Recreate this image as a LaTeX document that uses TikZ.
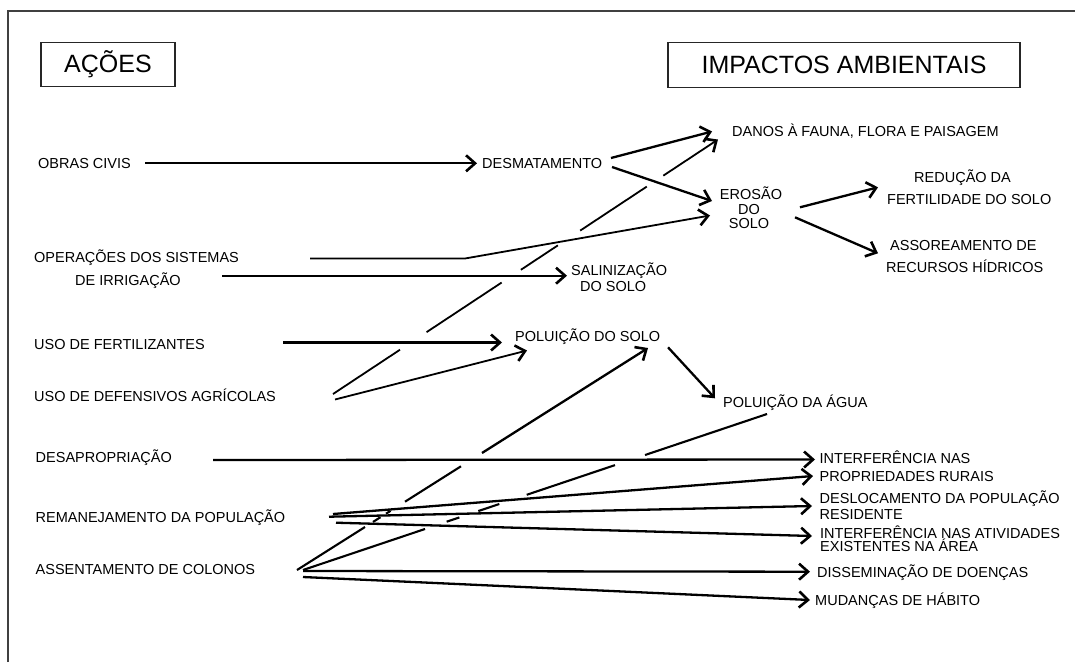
\documentclass[tikz,border=0pt]{standalone}
\usepackage{fontspec}
\setmainfont{Liberation Sans}
\usetikzlibrary{arrows.meta,calc}
\begin{document}
\begin{tikzpicture}[x=1pt,y=-1pt,
  lbl/.style={anchor=base west, inner sep=0pt, font=\fontsize{14.5}{14.5}\selectfont},
  lblc/.style={lbl, anchor=base},
  head/.style={draw=black!85, line width=1.2pt, inner sep=0pt, font=\fontsize{25}{25}\selectfont},
  conn/.style={line width=2.3pt, -{Straight Barb[length=9pt,width=16pt,line width=2.6pt]}},
  thinconn/.style={conn, line width=1.8pt},
  seg/.style={line width=2.1pt},
  thinseg/.style={line width=1.8pt},
]
\useasboundingbox (0,0) rectangle (1075,662);

% page frame (top and left rules)
\draw[line width=1.2pt, black!75] (8,662) -- (8,11) -- (1075,11);

% column headers
\node[head, minimum width=134pt, minimum height=44pt] (acoes) at (108,64.5) {AÇÕES};
\node[head, minimum width=352pt, minimum height=45pt] (impactos) at (844,65) {IMPACTOS AMBIENTAIS};

% actions
\node[lbl] (obras)  at (38,168.5)  {OBRAS CIVIS};
\node[lbl] (oper1)  at (34,262)    {OPERAÇÕES DOS SISTEMAS};
\node[lbl] (oper2)  at (75,285)    {DE IRRIGAÇÃO};
\node[lbl] (fert)   at (34,349)    {USO DE FERTILIZANTES};
\node[lbl] (defens) at (34,401)    {USO DE DEFENSIVOS AGRÍCOLAS};
\node[lbl] (desap)  at (35.5,462)  {DESAPROPRIAÇÃO};
\node[lbl] (reman)  at (35.5,522)  {REMANEJAMENTO DA POPULAÇÃO};
\node[lbl] (assent) at (35.5,574)  {ASSENTAMENTO DE COLONOS};

% intermediate and final impacts
\node[lbl] (desmat)  at (482,168.5) {DESMATAMENTO};
\node[lbl] (danos)   at (732,136.5) {DANOS À FAUNA, FLORA E PAISAGEM};
\node[lblc] (eros1)  at (751,199.5) {EROSÃO};
\node[lblc] (eros2)  at (749,214)   {DO};
\node[lblc] (eros3)  at (749,228.5) {SOLO};
\node[lbl] (redu1)   at (914,182.5) {REDUÇÃO DA};
\node[lbl] (redu2)   at (887,204.3) {FERTILIDADE DO SOLO};
\node[lbl] (assor1)  at (890,250.3) {ASSOREAMENTO DE};
\node[lbl] (assor2)  at (886,272)   {RECURSOS HÍDRICOS};
\node[lbl] (salin1)  at (571,275)   {SALINIZAÇÃO};
\node[lbl] (salin2)  at (580,291)   {DO SOLO};
\node[lbl] (polsolo) at (515,341)   {POLUIÇÃO DO SOLO};
\node[lbl] (polagua) at (723,407)   {POLUIÇÃO DA ÁGUA};
\node[lbl] (interf1) at (819.5,463.5) {INTERFERÊNCIA NAS};
\node[lbl] (interf2) at (819.5,481.3) {PROPRIEDADES RURAIS};
\node[lbl] (desloc1) at (819.5,503.5) {DESLOCAMENTO DA POPULAÇÃO};
\node[lbl] (desloc2) at (819.5,519.3) {RESIDENTE};
\node[lbl] (ativ1)   at (820,538.5) {INTERFERÊNCIA NAS ATIVIDADES};
\node[lbl] (ativ2)   at (820,551.3) {EXISTENTES NA ÁREA};
\node[lbl] (dissem)  at (817,577)   {DISSEMINAÇÃO DE DOENÇAS};
\node[lbl] (mudanc)  at (815,605.3) {MUDANÇAS DE HÁBITO};

% connector end points
\coordinate (obras-o)   at (145,163.3);
\coordinate (desmat-i)  at (477,163.3);
\coordinate (desmat-o1) at (611,158);
\coordinate (desmat-o2) at (612,167);
\coordinate (danos-i1)  at (712,131.5);
\coordinate (danos-i2)  at (718,139.5);
\coordinate (eros-i1)   at (712,201);
\coordinate (eros-i2)   at (710,215.5);
\coordinate (eros-o1)   at (800,207.3);
\coordinate (eros-o2)   at (795,217.3);
\coordinate (redu-i)    at (878,187.3);
\coordinate (assor-i)   at (878,253.3);
\coordinate (oper-o)    at (310,258.5);
\coordinate (oper-k)    at (465,258.5);
\coordinate (irrig-o)   at (222,275.7);
\coordinate (salin-i)   at (567,275.7);
\coordinate (fert-o)    at (283,342.5);
\coordinate (polsolo-i1) at (502,342.5);
\coordinate (polsolo-i2) at (527,350.5);
\coordinate (polsolo-i3) at (648,348);
\coordinate (polsolo-o) at (668,347.3);
\coordinate (polagua-i) at (715,398.3);
\coordinate (polagua-e) at (767,414);
\coordinate (defens-o1) at (333,394);
\coordinate (defens-o2) at (335,399.5);
\coordinate (desap-o)   at (213,460);
\coordinate (interf-i1) at (815,459.5);
\coordinate (interf-i2) at (813,476);
\coordinate (reman-o1)  at (333,514);
\coordinate (reman-o2)  at (329,516.7);
\coordinate (reman-o3)  at (336,522.7);
\coordinate (desloc-i)  at (812,506);
\coordinate (ativ-i)    at (812,536);
\coordinate (assent-o1) at (297,570);
\coordinate (assent-o2) at (303,570);
\coordinate (assent-o3) at (303,571);
\coordinate (assent-o4) at (303,577);
\coordinate (dissem-i)  at (810,571.7);
\coordinate (mudanc-i)  at (810,600);

% solid connectors
\draw[conn] (obras-o) -- (desmat-i);
\draw[conn] (desmat-o1) -- (danos-i1);
\draw[conn] (desmat-o2) -- (eros-i1);
\draw[conn] (eros-o1) -- (redu-i);
\draw[conn] (eros-o2) -- (assor-i);
\draw[thinconn] (oper-o) -- (oper-k) -- (eros-i2);
\draw[conn] (irrig-o) -- (salin-i);
\draw[conn] (fert-o) -- (polsolo-i1);
\draw[thinconn] (defens-o2) -- (polsolo-i2);
\draw[conn] (polsolo-o) -- (polagua-i);
\draw[conn] (desap-o) -- (interf-i1);
\draw[conn] (reman-o1) -- (interf-i2);
\draw[conn] (reman-o2) -- (desloc-i);
\draw[conn] (reman-o3) -- (ativ-i);
\draw[conn] (assent-o3) -- (dissem-i);
\draw[conn] (assent-o4) -- (mudanc-i);

% connectors broken where they pass under other lines
\draw[thinseg] (defens-o1) -- ($(defens-o1)!0.174!(danos-i2)$)
  ($(defens-o1)!0.243!(danos-i2)$) -- ($(defens-o1)!0.438!(danos-i2)$)
  ($(defens-o1)!0.488!(danos-i2)$) -- ($(defens-o1)!0.584!(danos-i2)$)
  ($(defens-o1)!0.642!(danos-i2)$) -- ($(defens-o1)!0.815!(danos-i2)$);
\draw[thinconn] ($(defens-o1)!0.858!(danos-i2)$) -- (danos-i2);

\draw[seg] (assent-o1) -- ($(assent-o1)!0.1937!(polsolo-i3)$)
  ($(assent-o1)!0.2165!(polsolo-i3)$) -- ($(assent-o1)!0.2379!(polsolo-i3)$)
  ($(assent-o1)!0.2536!(polsolo-i3)$) -- ($(assent-o1)!0.2664!(polsolo-i3)$)
  ($(assent-o1)!0.3077!(polsolo-i3)$) -- ($(assent-o1)!0.4672!(polsolo-i3)$);
\draw[conn] ($(assent-o1)!0.5271!(polsolo-i3)$) -- (polsolo-i3);

\draw[seg] (assent-o2) -- ($(assent-o2)!0.263!(polagua-e)$)
  ($(assent-o2)!0.3097!(polagua-e)$) -- ($(assent-o2)!0.3369!(polagua-e)$)
  ($(assent-o2)!0.3778!(polagua-e)$) -- ($(assent-o2)!0.4231!(polagua-e)$)
  ($(assent-o2)!0.4821!(polagua-e)$) -- ($(assent-o2)!0.6724!(polagua-e)$)
  ($(assent-o2)!0.7371!(polagua-e)$) -- (polagua-e);
\end{tikzpicture}
\end{document}
